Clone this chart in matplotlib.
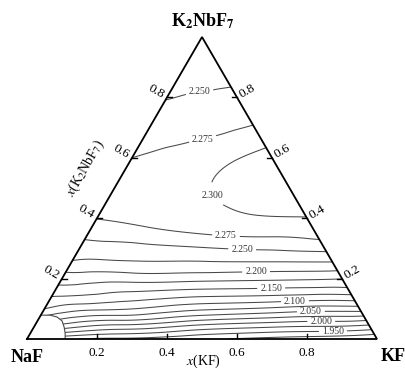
import numpy as np
import matplotlib
matplotlib.use('Agg')
import matplotlib.pyplot as plt
import matplotlib.tri as mtri
from matplotlib.patches import Polygon

plt.rcParams['font.family'] = ['Liberation Serif', 'DejaVu Serif']
plt.rcParams['mathtext.fontset'] = 'stix'

# density of NaF-KF-K2NbF7 melts
# rows of constant x(K2NbF7); along a row the points go from the NaF side (0) to the KF side (1)
x_k2nbf7_rows = [0.0, 0.05, 0.1, 0.15, 0.2, 0.25, 0.3, 0.35, 0.4, 0.5, 0.6, 0.7, 0.8, 0.9]
row_frac = [0.0, 0.25, 0.5, 0.75, 1.0]
density_rows = [
    [1.960, 1.945, 1.930, 1.915, 1.900],
    [2.070, 2.030, 2.005, 1.990, 1.981],
    [2.125, 2.102, 2.080, 2.068, 2.063],
    [2.156, 2.145, 2.135, 2.131, 2.129],
    [2.187, 2.185, 2.183, 2.180, 2.176],
    [2.220, 2.221, 2.221, 2.221, 2.221],
    [2.239, 2.243, 2.248, 2.253, 2.257],
    [2.257, 2.266, 2.276, 2.281, 2.285],
    [2.276, 2.284, 2.291, 2.298, 2.299],
    [2.287, 2.291, 2.298, 2.307, 2.310],
    [2.275, 2.281, 2.289, 2.299, 2.307],
    [2.262, 2.264, 2.266, 2.271, 2.278],
    [2.249, 2.251, 2.252, 2.253, 2.254],
    [2.238, 2.240, 2.241, 2.242, 2.243],
]
density_apex = 2.235

levels = [1.925, 1.950, 1.975, 2.000, 2.025, 2.050, 2.075, 2.100, 2.125, 2.150,
          2.175, 2.200, 2.225, 2.250, 2.275, 2.300]

# labelled isolines: level and composition (x(KF), x(K2NbF7)) where the label sits
label_levels = [2.250, 2.275, 2.300, 2.275, 2.250, 2.200, 2.150, 2.100, 2.050, 2.000, 1.950]
label_kf = [0.09, 0.175, 0.294, 0.398, 0.469, 0.542, 0.613, 0.701, 0.763, 0.809, 0.859]
label_k2nbf7 = [0.808, 0.656, 0.474, 0.341, 0.291, 0.225, 0.169, 0.129, 0.096, 0.063, 0.030]

# boundary of the region near NaF without data
arc_kf = [0.0, 0.026, 0.049, 0.070, 0.086, 0.099, 0.109]
arc_k2nbf7 = [0.079, 0.079, 0.073, 0.060, 0.040, 0.020, 0.0]

ticks = [0.2, 0.4, 0.6, 0.8]
h = np.sqrt(3) / 2


def tern(kf, k2nbf7):
    kf = np.asarray(kf, dtype=float)
    k2nbf7 = np.asarray(k2nbf7, dtype=float)
    return kf + k2nbf7 / 2, k2nbf7 * h


# grid points
pts_kf, pts_k, z = [], [], []
for b, row in zip(x_k2nbf7_rows, density_rows):
    for u, v in zip(row_frac, row):
        pts_kf.append(u * (1 - b))
        pts_k.append(b)
        z.append(v)
pts_kf.append(0.0)
pts_k.append(1.0)
z.append(density_apex)
px, py = tern(pts_kf, pts_k)
z = np.array(z)

tri = mtri.Triangulation(px, py)
interp = mtri.CubicTriInterpolator(tri, z, kind='min_E')
refiner = mtri.UniformTriRefiner(tri)
tri_f, z_f = refiner.refine_field(z, triinterpolator=interp, subdiv=5)

fig = plt.figure(figsize=(4.06, 3.70), dpi=100)
ax = fig.add_axes([27 / 406, 31 / 370, 350 / 406, 302 / 370])
ax.set_xlim(0, 1)
ax.set_ylim(0, h)
ax.axis('off')

# clip: triangle without the corner region
arx, ary = tern(arc_kf, arc_k2nbf7)
clip_verts = [(arx[-1], ary[-1]), (1, 0), (0.5, h)] + list(zip(arx, ary))
clip = Polygon(clip_verts, closed=True, transform=ax.transData)

line_kw = dict(colors='#484848', linewidths=0.75)
plain = [l for l in levels if l not in label_levels]
cs = ax.tricontour(tri_f, z_f, levels=plain, **line_kw)
cs.set_clip_path(clip)

lx, ly = tern(label_kf, label_k2nbf7)
for lev in sorted(set(label_levels)):
    cl = ax.tricontour(tri_f, z_f, levels=[lev], **line_kw)
    cl.set_clip_path(clip)
    pos = [(x, y) for l, x, y in zip(label_levels, lx, ly) if l == lev]
    texts = ax.clabel(cl, manual=pos, fmt='%.3f', fontsize=7,
                      inline=True, inline_spacing=3, colors='#333333')
    for txt in texts:
        txt.set_rotation(0)

ax.plot(arx, ary, color='#484848', lw=0.8)

# frame
ax.plot([0, 1, 0.5, 0], [0, 0, h, 0], color='black', lw=1.3, solid_joinstyle='miter', clip_on=False)

tl = 0.014
for t in ticks:
    # bottom axis
    ax.plot([t, t], [0, tl], color='black', lw=1.0)
    ax.text(t, -0.04, f'{t:.1f}', ha='center', va='center', fontsize=9.5)
    # left side
    x0, y0 = tern(0, t)
    ax.plot([x0, x0 + tl], [y0, y0], color='black', lw=1.0)
    ax.text(x0 - 0.03, y0 + 0.018, f'{t:.1f}', ha='center', va='center', fontsize=9.5, rotation=-30)
    # right side
    x1, y1 = tern(1 - t, t)
    ax.plot([x1, x1 - tl], [y1, y1], color='black', lw=1.0)
    ax.text(x1 + 0.03, y1 + 0.018, f'{t:.1f}', ha='center', va='center', fontsize=9.5, rotation=30)

ax.text(0.503, -0.064, '$x$(KF)', ha='center', va='center', fontsize=10)
ax.text(0.166, 0.49, '$x$(K$_2$NbF$_7$)', ha='center', va='center', fontsize=10, rotation=60)

ax.text(0.503, 0.912, r'K$_\mathbf{2}$NbF$_\mathbf{7}$', ha='center', va='center', fontsize=13, fontweight='bold')
ax.text(0.0, -0.052, 'NaF', ha='center', va='center', fontsize=13, fontweight='bold')
ax.text(1.046, -0.049, 'KF', ha='center', va='center', fontsize=13, fontweight='bold')

fig.savefig('out.png', dpi=100)
